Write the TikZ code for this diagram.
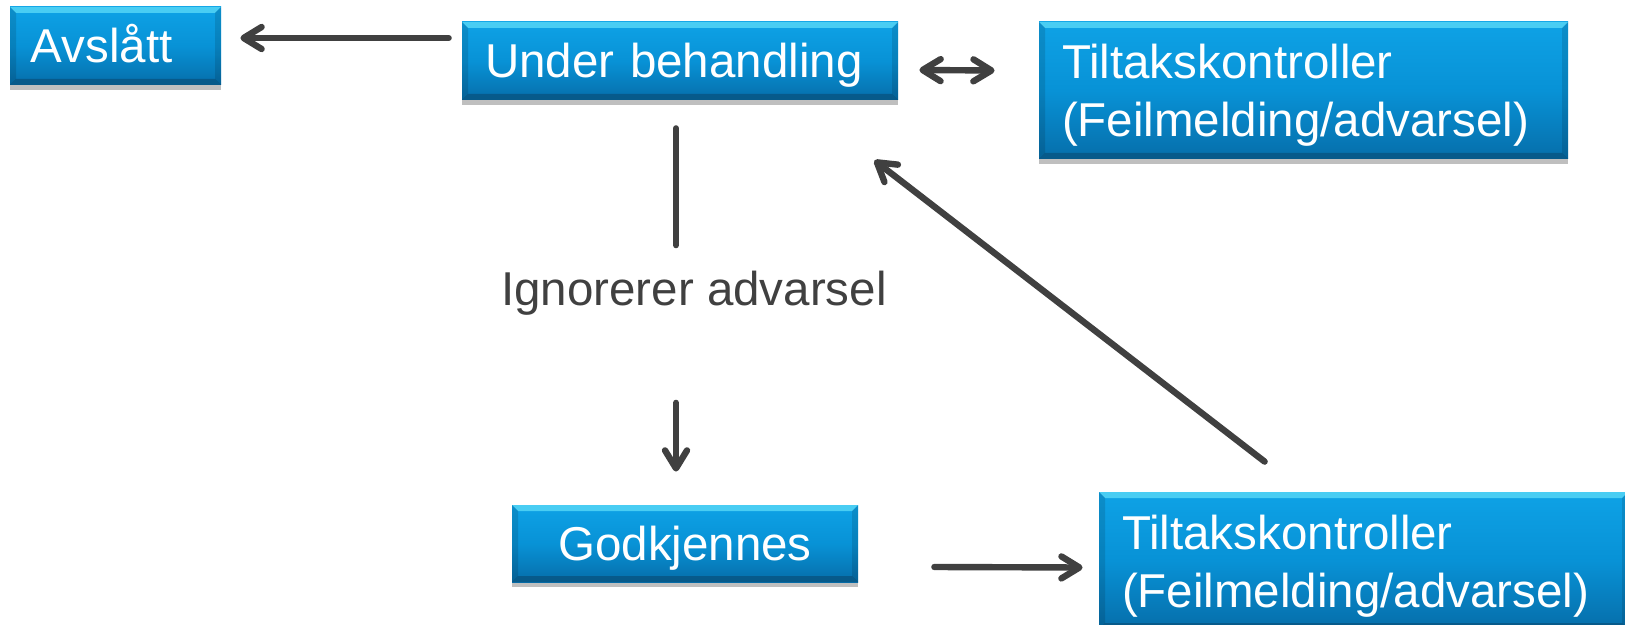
\documentclass[tikz,border=0pt]{standalone}
\usepackage{fontspec}
\setmainfont{Liberation Sans}
\usetikzlibrary{arrows.meta,shadows}
\definecolor{bxtop}{RGB}{14,162,230}
\definecolor{bxmid}{RGB}{8,146,214}
\definecolor{bxbot}{RGB}{6,110,170}
\definecolor{bvtop}{RGB}{80,210,245}
\definecolor{bvbot}{RGB}{8,88,135}
\definecolor{ink}{RGB}{64,64,64}
\newcommand\bigtxt{\fontsize{23.75}{29}\selectfont}
\begin{document}
\begin{tikzpicture}[x=0.5pt,y=-0.5pt,
  box/.style={rectangle, inner sep=0pt, top color=bxtop, bottom color=bxbot, middle color=bxmid,
    text=white, font=\bigtxt,
    drop shadow={shadow xshift=0pt, shadow yshift=-2.5pt, opacity=0.25, fill=black},
    path picture={
      \path (path picture bounding box.north west) coordinate (pnw)
            (path picture bounding box.south east) coordinate (pse);
      \fill[bvtop, opacity=0.9] (pnw) -- (pnw -| pse) -- ([shift={(-3pt,-3pt)}]pnw -| pse) -- ([shift={(3pt,-3pt)}]pnw) -- cycle;
      \fill[bvbot, opacity=0.9] (pse) -- (pse -| pnw) -- ([shift={(3pt,3pt)}]pse -| pnw) -- ([shift={(-3pt,3pt)}]pse) -- cycle;
      \fill[black, opacity=0.12] (pnw) -- ([shift={(3pt,-3pt)}]pnw) -- ([shift={(3pt,3pt)}]pse -| pnw) -- (pse -| pnw) -- cycle;
      \fill[black, opacity=0.12] (pnw -| pse) -- ([shift={(-3pt,-3pt)}]pnw -| pse) -- ([shift={(-3pt,3pt)}]pse) -- (pse) -- cycle;
    }},
  onebox/.style={box, text height=17pt, text depth=0pt},
  twobox/.style={box, minimum height=68.5pt, inner xsep=11.5pt, text width=241.5pt, align=left, text height=27pt, text depth=38.5pt},
  lbl/.style={inner sep=0pt, text=ink, font=\bigtxt, text height=17pt, text depth=0pt},
  conn/.style={draw=ink, line width=3.2pt, line cap=round},
  arr/.style={conn, -{Straight Barb[length=9pt,width=11pt,round]}},
  darr/.style={conn, {Straight Barb[length=9pt,width=11pt,round]}-{Straight Barb[length=9pt,width=11pt,round]}},
]
\useasboundingbox (0,0) rectangle (1625,625);
\clip (0,0) rectangle (1625,625);

\node[onebox, minimum height=39pt, inner xsep=10.5pt, text width=84.5pt, align=left] (avs) at (115.5,46) {Avslått};
\node[onebox, minimum height=39pt, inner xsep=11.5pt, text width=195pt, align=left] (ub) at (680,61) {Under behandling};
\node[twobox] (tk1) at (1303.5,90.5) {Tiltakskontroller\\(Feilmelding/advarsel)};
\node[onebox, minimum height=38.5pt, minimum width=173pt, align=center] (god) at (685,543.5) {Godkjennes};
\node[twobox] (tk2) at (1363.5,560.5) {Tiltakskontroller\\(Feilmelding/advarsel)};
\node[lbl] (lbl) at (694,288.5) {Ignorerer advarsel};
\coordinate (vx) at (676,0);

\draw[arr] ([shift={(-6.5pt,11.5pt)}]ub.west) -- ([shift={(9.5pt,4pt)}]avs.east);
\draw[darr] ([shift={(10.5pt,-4.5pt)}]ub.east) -- ([shift={(-22pt,10pt)}]tk1.west);
\draw[conn, shorten <=14pt, shorten >=13pt] (ub.south -| vx) -- (lbl.north -| vx);
\draw[arr, shorten <=48.5pt, shorten >=16.5pt] (lbl.south -| vx) -- (god.north -| vx);
\draw[arr] ([shift={(38pt,-11.75pt)}]god.east) -- ([shift={(-8pt,-3.5pt)}]tk2.west);
\draw[arr] ([shift={(83pt,15pt)}]tk2.north west) -- ([shift={(-12pt,-30pt)}]ub.south east);
\end{tikzpicture}
\end{document}
